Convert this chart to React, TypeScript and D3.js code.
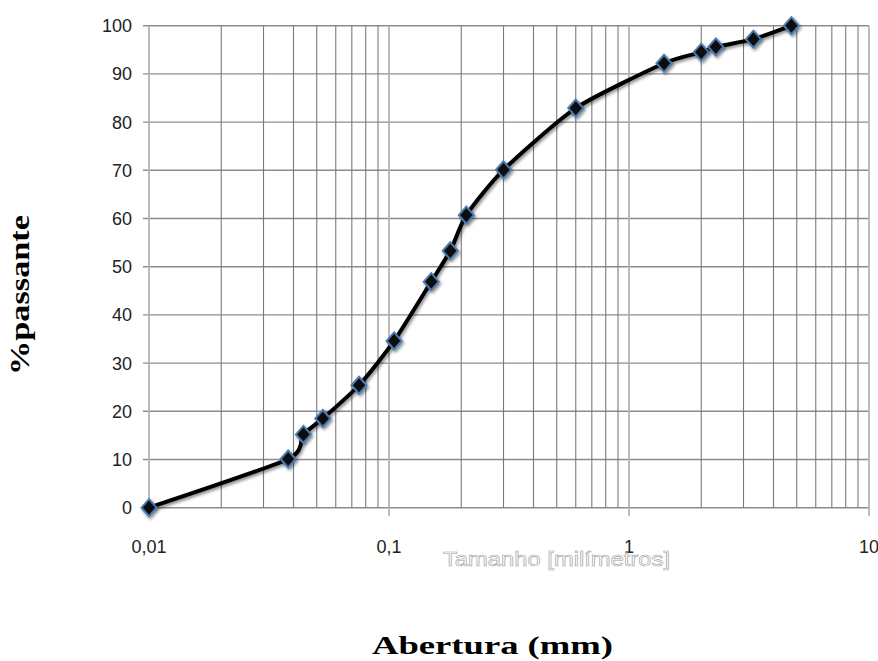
import React from "react";
import * as d3 from "d3";

const sizes = [0.01, 0.038, 0.044, 0.053, 0.075, 0.105, 0.15, 0.18, 0.21, 0.3, 0.6, 1.4, 2.0, 2.3, 3.3, 4.75];
const passing = [0, 10.1, 15.2, 18.5, 25.4, 34.6, 46.9, 53.3, 60.7, 70.1, 82.9, 92.2, 94.5, 95.6, 97.2, 100];
const yTicks = [0, 10, 20, 30, 40, 50, 60, 70, 80, 90, 100];
const xMajor = [0.01, 0.1, 1, 10];
const xMajorLabels = ["0,01", "0,1", "1", "10"];

const W = 878;
const H = 661;
const left = 149;
const right = 869;
const top = 25.7;
const bottom = 507.7;

export default function App() {
  const x = d3.scaleLog().domain([0.01, 10]).range([left, right]);
  const y = d3.scaleLinear().domain([0, 100]).range([bottom, top]);
  const minor: number[] = [];
  [0.01, 0.1, 1].forEach((d) => {
    for (let k = 2; k <= 9; k++) minor.push(d * k);
  });
  const pts = sizes.map((s, i) => [x(s), y(passing[i])] as [number, number]);
  const line = d3.line().curve(d3.curveCardinal.tension(0.35))(pts) || "";
  const tickFont = "'Liberation Sans Narrow', 'Liberation Sans', Arial, sans-serif";
  const serif = "'Liberation Serif', 'Times New Roman', serif";
  return (
    <svg width={W} height={H} style={{ position: "absolute", left: 0, top: 0, background: "#fff" }}>
      <defs>
        <filter id="sh" x="-50%" y="-50%" width="200%" height="200%">
          <feDropShadow dx="1.5" dy="2" stdDeviation="1.5" floodColor="#000" floodOpacity="0.45" />
        </filter>
      </defs>
      {yTicks.map((t) => (
        <line key={"h" + t} x1={left - 6} x2={right} y1={y(t)} y2={y(t)} stroke="#8c8c8c" strokeWidth={1.4} />
      ))}
      {minor.map((m) => (
        <line key={"m" + m} x1={x(m)} x2={x(m)} y1={top} y2={bottom} stroke="#7a7a7a" strokeWidth={1.1} />
      ))}
      {xMajor.map((m) => (
        <line key={"M" + m} x1={x(m)} x2={x(m)} y1={top} y2={bottom + 8} stroke="#b4b4b4" strokeWidth={1.8} />
      ))}
      {yTicks.map((t) => (
        <text key={"yl" + t} x={left - 17} y={y(t)} dy="0.36em" textAnchor="end" fontFamily={tickFont} fontSize={18} fill="#222">
          {t}
        </text>
      ))}
      {xMajor.map((m, i) => (
        <text key={"xl" + m} x={x(m)} y={553} textAnchor="middle" fontFamily={tickFont} fontSize={18} fill="#222">
          {xMajorLabels[i]}
        </text>
      ))}
      <path d={line} fill="none" stroke="#000" strokeWidth={4} strokeLinejoin="round" filter="url(#sh)" />
      {pts.map((p, i) => (
        <path
          key={"pt" + i}
          d={`M${p[0]},${p[1] - 8.5}L${p[0] + 7.5},${p[1]}L${p[0]},${p[1] + 8.5}L${p[0] - 7.5},${p[1]}Z`}
          fill="#0d0d0d"
          stroke="#4a7ab0"
          strokeWidth={2}
          filter="url(#sh)"
        />
      ))}
      <text
        x={443}
        y={566}
        textLength={227}
        lengthAdjust="spacingAndGlyphs"
        fontFamily={tickFont}
        fontSize={20}
        fill="#fff"
        stroke="#a0a0a0"
        strokeWidth={0.6}
      >
        Tamanho [milímetros]
      </text>
      <text
        transform={`translate(29,375) rotate(-90)`}
        textLength={160}
        lengthAdjust="spacingAndGlyphs"
        fontFamily={serif}
        fontWeight="bold"
        fontSize={27}
        fill="#000"
      >
        %passante
      </text>
      <text
        x={372}
        y={654}
        textLength={241}
        lengthAdjust="spacingAndGlyphs"
        fontFamily={serif}
        fontWeight="bold"
        fontSize={25}
        fill="#000"
      >
        Abertura (mm)
      </text>
    </svg>
  );
}
